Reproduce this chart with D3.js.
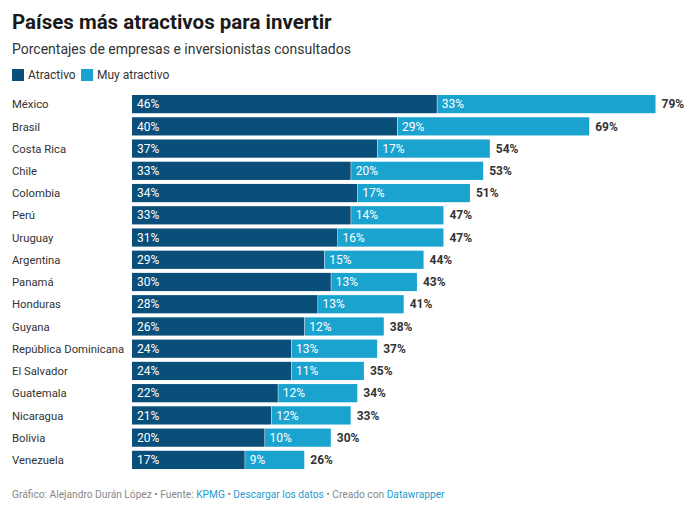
<!DOCTYPE html>
<html><head><meta charset="utf-8">
<script src="https://cdn.jsdelivr.net/npm/d3@7"></script>
<style>
body{margin:0;background:#fff;font-family:Roboto,"Noto Sans",sans-serif;}
</style></head>
<body>
<svg id="c" width="690" height="507"></svg>
<script>
const countries = ["México","Brasil","Costa Rica","Chile","Colombia","Perú","Uruguay","Argentina","Panamá","Honduras","Guyana","República Dominicana","El Salvador","Guatemala","Nicaragua","Bolivia","Venezuela"];
const atractivo = [46,40,37,33,34,33,31,29,30,28,26,24,24,22,21,20,17];
const muyAtractivo = [33,29,17,20,17,14,16,15,13,13,12,13,11,12,12,10,9];
const totals = [79,69,54,53,51,47,47,44,43,41,38,37,35,34,33,30,26];
const seriesNames = ["Atractivo","Muy atractivo"];
const colors = ["#0a4f7a","#1ba3cf"];

const svg = d3.select("#c");
svg.append("text").attr("x",12).attr("y",29).attr("font-size",20.5).attr("font-weight",700).attr("fill","#1a1a1a").text("Países más atractivos para invertir");
svg.append("text").attr("x",12).attr("y",54).attr("font-size",14).attr("fill","#333").text("Porcentajes de empresas e inversionistas consultados");

const leg = svg.append("g");
const legX = [12, 81];
seriesNames.forEach((s,i)=>{
  leg.append("rect").attr("x",legX[i]).attr("y",69).attr("width",12).attr("height",12).attr("fill",colors[i]);
  leg.append("text").attr("x",legX[i]+16).attr("y",79).attr("font-size",12).attr("fill","#333").text(s);
});

const x = d3.scaleLinear().domain([0,79]).range([132,655.5]);
const y = d3.scaleBand().domain(countries).range([93,471]).paddingInner(0.18).paddingOuter(0.09);

const rows = svg.append("g").selectAll("g").data(countries).join("g");
rows.append("text").attr("x",12).attr("y",d=>y(d)+y.bandwidth()/2+4.2).attr("font-size",11.3).attr("fill","#333").text(d=>d);
rows.append("rect").attr("x",x(0)).attr("y",d=>y(d)).attr("height",y.bandwidth())
  .attr("width",(d,i)=>x(atractivo[i])-x(0)).attr("fill",colors[0]);
rows.append("rect").attr("x",(d,i)=>x(atractivo[i])+0.5).attr("y",d=>y(d)).attr("height",y.bandwidth())
  .attr("width",(d,i)=>x(atractivo[i]+muyAtractivo[i])-x(atractivo[i])-0.5).attr("fill",colors[1]);
rows.append("text").attr("x",x(0)+5).attr("y",d=>y(d)+y.bandwidth()/2+4.2).attr("font-size",12).attr("fill","#fff").text((d,i)=>atractivo[i]+"%");
rows.append("text").attr("x",(d,i)=>x(atractivo[i])+5).attr("y",d=>y(d)+y.bandwidth()/2+4.2).attr("font-size",12).attr("fill","#fff").text((d,i)=>muyAtractivo[i]+"%");
rows.append("text").attr("x",(d,i)=>x(atractivo[i]+muyAtractivo[i])+6).attr("y",d=>y(d)+y.bandwidth()/2+4.2).attr("font-size",12).attr("font-weight",700).attr("fill","#333").text((d,i)=>totals[i]+"%");

const f = svg.append("text").attr("x",12).attr("y",498).attr("font-size",10.2).attr("fill","#888");
f.append("tspan").text("Gráfico: Alejandro Durán López • Fuente: ");
f.append("tspan").attr("fill","#1d9bd0").text("KPMG");
f.append("tspan").text(" • ");
f.append("tspan").attr("fill","#1d9bd0").text("Descargar los datos");
f.append("tspan").text(" • Creado con ");
f.append("tspan").attr("fill","#1d9bd0").text("Datawrapper");
</script>
</body></html>
